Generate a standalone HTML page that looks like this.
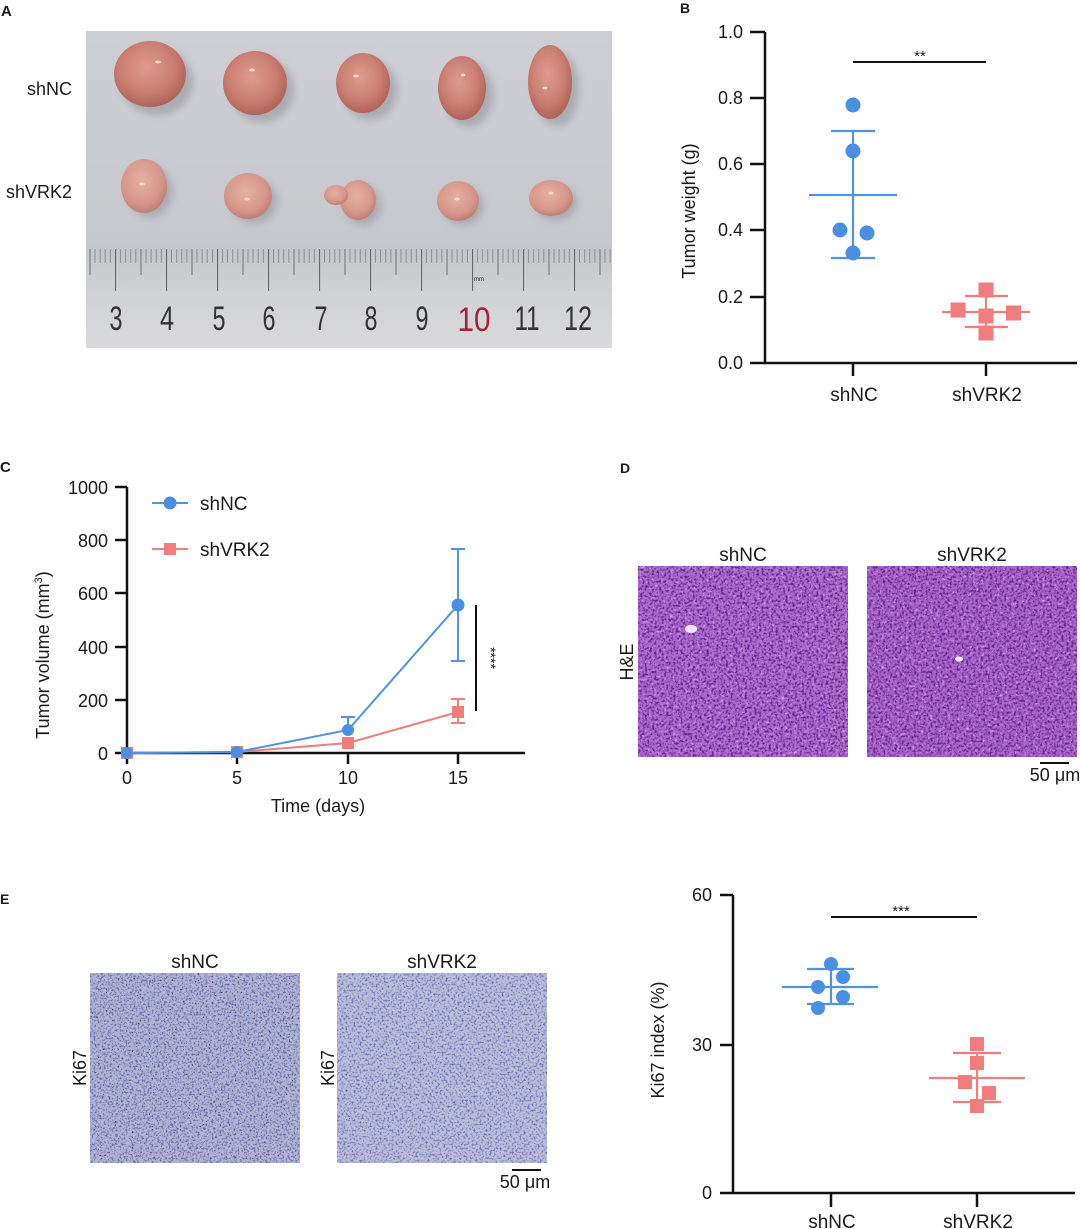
<!DOCTYPE html>
<html>
<head>
<meta charset="utf-8">
<style>
html,body{margin:0;padding:0;background:#fff;}
svg{display:block;}
text{font-family:"Liberation Sans",Arial,sans-serif;fill:#1a1a1a;}
</style>
</head>
<body>
<svg width="1080" height="1229" viewBox="0 0 1080 1229" xmlns="http://www.w3.org/2000/svg">
<defs>
  <linearGradient id="bg" x1="0" y1="0" x2="0" y2="1">
    <stop offset="0" stop-color="#cdcfd4"/>
    <stop offset="1" stop-color="#c6c8cd"/>
  </linearGradient>
  <linearGradient id="ruler" x1="0" y1="0" x2="0" y2="1">
    <stop offset="0" stop-color="#c4c5c8"/>
    <stop offset="0.45" stop-color="#d0d1d3"/>
    <stop offset="1" stop-color="#dadadc"/>
  </linearGradient>
  <radialGradient id="t1" cx="0.45" cy="0.4" r="0.65">
    <stop offset="0" stop-color="#dd9c8e"/>
    <stop offset="0.6" stop-color="#c97d70"/>
    <stop offset="1" stop-color="#a95d53"/>
  </radialGradient>
  <radialGradient id="t2" cx="0.45" cy="0.4" r="0.65">
    <stop offset="0" stop-color="#e6b0a2"/>
    <stop offset="0.65" stop-color="#d6978a"/>
    <stop offset="1" stop-color="#bb786c"/>
  </radialGradient>
  <filter id="blur" x="-30%" y="-30%" width="160%" height="160%">
    <feGaussianBlur stdDeviation="4"/>
  </filter>
  <pattern id="mm" x="115" y="246" width="5.1" height="102" patternUnits="userSpaceOnUse">
    <rect x="0" y="3" width="0.8" height="14" fill="#7d7e82"/>
  </pattern>
  <pattern id="half" x="140.5" y="246" width="51" height="102" patternUnits="userSpaceOnUse">
    <rect x="0" y="3" width="1" height="26" fill="#6f7074"/>
  </pattern>
  <pattern id="cm" x="115" y="246" width="51" height="102" patternUnits="userSpaceOnUse">
    <rect x="0" y="3" width="1.1" height="42" fill="#66676b"/>
  </pattern>
  <filter id="heN" x="0" y="0" width="1" height="1" color-interpolation-filters="sRGB">
    <feTurbulence type="fractalNoise" baseFrequency="0.42" numOctaves="2" seed="4"/>
    <feColorMatrix type="matrix" values="0 0 0 0 0.38  0 0 0 0 0.13  0 0 0 0 0.56  3.6 0 0 0 -1.6"/>
  </filter>
  <filter id="heL" x="0" y="0" width="1" height="1" color-interpolation-filters="sRGB">
    <feTurbulence type="fractalNoise" baseFrequency="0.33" numOctaves="2" seed="11"/>
    <feColorMatrix type="matrix" values="0 0 0 0 0.86  0 0 0 0 0.68  0 0 0 0 0.93  0 3.2 0 0 -1.85"/>
  </filter>
  <filter id="kiN" x="0" y="0" width="1" height="1" color-interpolation-filters="sRGB">
    <feTurbulence type="fractalNoise" baseFrequency="0.5" numOctaves="2" seed="7"/>
    <feColorMatrix type="matrix" values="0 0 0 0 0.40  0 0 0 0 0.44  0 0 0 0 0.72  4 0 0 0 -1.95"/>
  </filter>
  <filter id="kiD" x="0" y="0" width="1" height="1" color-interpolation-filters="sRGB">
    <feTurbulence type="fractalNoise" baseFrequency="0.65" numOctaves="1" seed="21"/>
    <feColorMatrix type="matrix" values="0 0 0 0 0.28  0 0 0 0 0.22  0 0 0 0 0.25  0 0 8 0 -5.05"/>
  </filter>
  <filter id="kiD2" x="0" y="0" width="1" height="1" color-interpolation-filters="sRGB">
    <feTurbulence type="fractalNoise" baseFrequency="0.65" numOctaves="1" seed="33"/>
    <feColorMatrix type="matrix" values="0 0 0 0 0.3  0 0 0 0 0.25  0 0 0 0 0.3  0 0 8 0 -5.45"/>
  </filter>
</defs>

<rect x="0" y="0" width="1080" height="1229" fill="#fff"/>

<!-- ================= Panel A ================= -->
<text x="1" y="16" font-size="15" font-weight="bold">A</text>
<text x="72" y="95" font-size="18" text-anchor="end">shNC</text>
<text x="72" y="198" font-size="18" text-anchor="end">shVRK2</text>

<rect x="86" y="31" width="526" height="216" fill="url(#bg)"/>
<g filter="url(#blur)" fill="#8f9096" opacity="0.55">
  <ellipse cx="157" cy="82" rx="36" ry="33"/>
  <ellipse cx="262" cy="90" rx="32" ry="32"/>
  <ellipse cx="370" cy="90" rx="27" ry="30"/>
  <ellipse cx="469" cy="95" rx="24" ry="32"/>
  <ellipse cx="557" cy="89" rx="22" ry="37"/>
  <ellipse cx="150" cy="191" rx="22" ry="26"/>
  <ellipse cx="254" cy="201" rx="23" ry="22"/>
  <ellipse cx="363" cy="205" rx="18" ry="20"/>
  <ellipse cx="463" cy="206" rx="20" ry="19"/>
  <ellipse cx="556" cy="203" rx="21" ry="17"/>
</g>
<ellipse cx="150" cy="74" rx="36" ry="33" fill="url(#t1)"/>
<ellipse cx="255" cy="83" rx="32" ry="32" fill="url(#t1)"/>
<ellipse cx="363" cy="83" rx="27" ry="30" fill="url(#t1)"/>
<ellipse cx="462" cy="88" rx="24" ry="32" fill="url(#t1)"/>
<ellipse cx="550" cy="82" rx="22" ry="37" fill="url(#t1)"/>
<ellipse cx="144" cy="186" rx="23" ry="27" fill="url(#t2)"/>
<ellipse cx="248" cy="196" rx="24" ry="23" fill="url(#t2)"/>
<ellipse cx="358" cy="200" rx="18" ry="20" fill="url(#t2)"/>
<ellipse cx="336" cy="195" rx="12" ry="10" fill="url(#t2)"/>
<ellipse cx="458" cy="201" rx="21" ry="20" fill="url(#t2)"/>
<ellipse cx="551" cy="198" rx="22" ry="18" fill="url(#t2)"/>
<g fill="#f6e6e0" opacity="0.8">
  <ellipse cx="158" cy="62" rx="3" ry="1.5"/>
  <ellipse cx="252" cy="70" rx="3" ry="1.5"/>
  <ellipse cx="356" cy="76" rx="3" ry="1.5"/>
  <ellipse cx="463" cy="75" rx="2.5" ry="1.5"/>
  <ellipse cx="545" cy="88" rx="2.5" ry="1.5"/>
  <ellipse cx="142" cy="184" rx="3" ry="1.5"/>
  <ellipse cx="247" cy="199" rx="3" ry="1.5"/>
  <ellipse cx="457" cy="199" rx="3" ry="1.5"/>
  <ellipse cx="551" cy="193" rx="2.5" ry="1.5"/>
</g>
<rect x="86" y="246" width="526" height="102" fill="url(#ruler)"/>
<rect x="86" y="246" width="526" height="102" fill="url(#mm)"/>
<rect x="86" y="246" width="526" height="102" fill="url(#half)"/>
<rect x="86" y="246" width="526" height="102" fill="url(#cm)"/>
<text x="474" y="281" font-size="6" fill="#555">mm</text>
<g font-size="34" fill="#333">
  <text x="116" y="330" text-anchor="middle" textLength="13" lengthAdjust="spacingAndGlyphs" style="fill:#333">3</text>
  <text x="167" y="330" text-anchor="middle" textLength="14" lengthAdjust="spacingAndGlyphs" style="fill:#333">4</text>
  <text x="219" y="330" text-anchor="middle" textLength="13" lengthAdjust="spacingAndGlyphs" style="fill:#333">5</text>
  <text x="269" y="330" text-anchor="middle" textLength="13" lengthAdjust="spacingAndGlyphs" style="fill:#333">6</text>
  <text x="321" y="330" text-anchor="middle" textLength="13" lengthAdjust="spacingAndGlyphs" style="fill:#333">7</text>
  <text x="371" y="330" text-anchor="middle" textLength="13" lengthAdjust="spacingAndGlyphs" style="fill:#333">8</text>
  <text x="422" y="330" text-anchor="middle" textLength="13" lengthAdjust="spacingAndGlyphs" style="fill:#333">9</text>
  <text x="474" y="331" text-anchor="middle" textLength="33" lengthAdjust="spacingAndGlyphs" style="fill:#a8213c">10</text>
  <text x="527" y="330" text-anchor="middle" textLength="25" lengthAdjust="spacingAndGlyphs" style="fill:#333">11</text>
  <text x="578" y="330" text-anchor="middle" textLength="28" lengthAdjust="spacingAndGlyphs" style="fill:#333">12</text>
</g>

<!-- ================= Panel B ================= -->
<text x="680" y="13" font-size="14" font-weight="bold">B</text>
<g stroke="#111" stroke-width="2.5" fill="none">
  <line x1="765" y1="32" x2="765" y2="364"/>
  <line x1="764" y1="363" x2="1077" y2="363"/>
  <line x1="750" y1="32" x2="765" y2="32"/>
  <line x1="750" y1="98" x2="765" y2="98"/>
  <line x1="750" y1="164" x2="765" y2="164"/>
  <line x1="750" y1="230" x2="765" y2="230"/>
  <line x1="750" y1="297" x2="765" y2="297"/>
  <line x1="750" y1="363" x2="765" y2="363"/>
  <line x1="853" y1="363" x2="853" y2="376"/>
  <line x1="986" y1="363" x2="986" y2="376"/>
</g>
<g font-size="18" text-anchor="end">
  <text x="743" y="38">1.0</text>
  <text x="743" y="104">0.8</text>
  <text x="743" y="170">0.6</text>
  <text x="743" y="236">0.4</text>
  <text x="743" y="303">0.2</text>
  <text x="743" y="369">0.0</text>
</g>
<text transform="translate(695,211) rotate(-90)" font-size="18" text-anchor="middle">Tumor weight (g)</text>
<text x="854" y="401" font-size="19" text-anchor="middle">shNC</text>
<text x="987" y="401" font-size="19" text-anchor="middle">shVRK2</text>
<line x1="853" y1="62" x2="986" y2="62" stroke="#111" stroke-width="2"/>
<text x="920" y="61" font-size="15" text-anchor="middle">**</text>
<g stroke="#4f93e3" stroke-width="2.2">
  <line x1="853" y1="131" x2="853" y2="258"/>
  <line x1="831" y1="131" x2="875" y2="131"/>
  <line x1="831" y1="258" x2="875" y2="258"/>
  <line x1="809" y1="195" x2="897" y2="195"/>
</g>
<g fill="#4a90e2">
  <circle cx="853" cy="105" r="7.5"/>
  <circle cx="853" cy="151" r="7.5"/>
  <circle cx="840" cy="230" r="7.5"/>
  <circle cx="867" cy="233" r="7.5"/>
  <circle cx="853" cy="253" r="7.5"/>
</g>
<g stroke="#f07e7e" stroke-width="2.2">
  <line x1="986" y1="296" x2="986" y2="327"/>
  <line x1="965" y1="296" x2="1008" y2="296"/>
  <line x1="965" y1="327" x2="1008" y2="327"/>
  <line x1="942" y1="312" x2="1030" y2="312"/>
</g>
<g fill="#f07c7c">
  <rect x="978.5" y="282.5" width="15" height="15"/>
  <rect x="950.5" y="302.5" width="15" height="15"/>
  <rect x="978.5" y="308.5" width="15" height="15"/>
  <rect x="1006" y="305.5" width="15" height="15"/>
  <rect x="978.5" y="325.5" width="15" height="15"/>
</g>

<!-- ================= Panel C ================= -->
<text x="0" y="472" font-size="15" font-weight="bold">C</text>
<g stroke="#111" stroke-width="2.5" fill="none">
  <line x1="127" y1="487" x2="127" y2="754"/>
  <line x1="126" y1="753" x2="525" y2="753"/>
  <line x1="115" y1="487" x2="127" y2="487"/>
  <line x1="115" y1="540" x2="127" y2="540"/>
  <line x1="115" y1="593" x2="127" y2="593"/>
  <line x1="115" y1="647" x2="127" y2="647"/>
  <line x1="115" y1="700" x2="127" y2="700"/>
  <line x1="115" y1="753" x2="127" y2="753"/>
  <line x1="127" y1="753" x2="127" y2="764"/>
  <line x1="237" y1="753" x2="237" y2="764"/>
  <line x1="348" y1="753" x2="348" y2="764"/>
  <line x1="458" y1="753" x2="458" y2="764"/>
</g>
<g font-size="18" text-anchor="end">
  <text x="108" y="494">1000</text>
  <text x="108" y="547">800</text>
  <text x="108" y="600">600</text>
  <text x="108" y="654">400</text>
  <text x="108" y="707">200</text>
  <text x="108" y="760">0</text>
</g>
<g font-size="18" text-anchor="middle">
  <text x="127" y="784">0</text>
  <text x="237" y="784">5</text>
  <text x="348" y="784">10</text>
  <text x="458" y="784">15</text>
</g>
<text x="318" y="812" font-size="18" text-anchor="middle">Time (days)</text>
<text transform="translate(49,655) rotate(-90)" font-size="18" text-anchor="middle">Tumor volume (mm<tspan font-size="11" dy="-7">3</tspan><tspan dy="7">)</tspan></text>
<line x1="152" y1="503" x2="188" y2="503" stroke="#4f93e3" stroke-width="2"/>
<circle cx="170" cy="503" r="6.5" fill="#4a90e2"/>
<text x="200" y="510" font-size="19">shNC</text>
<line x1="152" y1="549" x2="188" y2="549" stroke="#f07e7e" stroke-width="2"/>
<rect x="164" y="543" width="12" height="12" fill="#f07c7c"/>
<text x="200" y="556" font-size="19">shVRK2</text>
<polyline points="127,753 237,752 348,743 458,712" fill="none" stroke="#f07e7e" stroke-width="2"/>
<g stroke="#f07e7e" stroke-width="2">
  <line x1="458" y1="699" x2="458" y2="723"/>
  <line x1="451" y1="699" x2="465" y2="699"/>
  <line x1="451" y1="723" x2="465" y2="723"/>
</g>
<g fill="#f07c7c">
  <rect x="121" y="747" width="12" height="12"/>
  <rect x="231" y="746" width="12" height="12"/>
  <rect x="342" y="737" width="12" height="12"/>
  <rect x="452" y="706" width="12" height="12"/>
</g>
<polyline points="127,753 237,752 348,730 458,605" fill="none" stroke="#4f93e3" stroke-width="2"/>
<g stroke="#4f93e3" stroke-width="2">
  <line x1="348" y1="717" x2="348" y2="730"/>
  <line x1="341" y1="717" x2="355" y2="717"/>
  <line x1="458" y1="549" x2="458" y2="661"/>
  <line x1="451" y1="549" x2="465" y2="549"/>
  <line x1="451" y1="661" x2="465" y2="661"/>
</g>
<g fill="#4a90e2">
  <circle cx="127" cy="753" r="6"/>
  <circle cx="237" cy="752" r="6"/>
  <circle cx="348" cy="730" r="6"/>
  <circle cx="458" cy="605" r="6.5"/>
</g>
<line x1="476" y1="605" x2="476" y2="711" stroke="#111" stroke-width="2"/>
<text transform="translate(486,658) rotate(90)" font-size="14" text-anchor="middle">****</text>

<!-- ================= Panel D ================= -->
<text x="620" y="473" font-size="14" font-weight="bold">D</text>
<text x="743" y="561" font-size="19" text-anchor="middle">shNC</text>
<text x="972" y="561" font-size="19" text-anchor="middle">shVRK2</text>
<text transform="translate(633,662) rotate(-90)" font-size="18" text-anchor="middle">H&amp;E</text>
<rect x="638" y="566" width="210" height="191" fill="#ad6ccb"/>
<rect x="638" y="566" width="210" height="191" filter="url(#heN)"/>
<rect x="638" y="566" width="210" height="191" filter="url(#heL)"/>
<ellipse cx="691" cy="629" rx="6" ry="4" fill="#f3e8f6"/>
<rect x="867" y="566" width="210" height="191" fill="#a966c8"/>
<rect x="867" y="566" width="210" height="191" filter="url(#heN)"/>
<rect x="867" y="566" width="210" height="191" filter="url(#heL)"/>
<ellipse cx="959" cy="659" rx="4" ry="2.5" fill="#f3e8f6"/>
<line x1="1040" y1="763" x2="1069" y2="763" stroke="#111" stroke-width="2"/>
<text x="1055" y="781" font-size="18" text-anchor="middle">50 μm</text>

<!-- ================= Panel E ================= -->
<text x="0" y="904" font-size="14" font-weight="bold">E</text>
<text x="195" y="968" font-size="19" text-anchor="middle">shNC</text>
<text x="442" y="968" font-size="19" text-anchor="middle">shVRK2</text>
<text transform="translate(86,1068) rotate(-90)" font-size="18" text-anchor="middle">Ki67</text>
<text transform="translate(334,1068) rotate(-90)" font-size="18" text-anchor="middle">Ki67</text>
<rect x="90" y="973" width="210" height="190" fill="#b3b6d6"/>
<rect x="90" y="973" width="210" height="190" filter="url(#kiN)"/>
<rect x="90" y="973" width="210" height="190" filter="url(#kiD)"/>
<rect x="337" y="973" width="210" height="190" fill="#bcbfdc"/>
<rect x="337" y="973" width="210" height="190" filter="url(#kiN)"/>
<rect x="337" y="973" width="210" height="190" filter="url(#kiD2)"/>
<line x1="512" y1="1170" x2="541" y2="1170" stroke="#111" stroke-width="2"/>
<text x="525" y="1188" font-size="18" text-anchor="middle">50 μm</text>

<g stroke="#111" stroke-width="2.5" fill="none">
  <line x1="733" y1="895" x2="733" y2="1194"/>
  <line x1="720" y1="1193" x2="1075" y2="1193"/>
  <line x1="720" y1="895" x2="733" y2="895"/>
  <line x1="720" y1="1045" x2="733" y2="1045"/>
  <line x1="831" y1="1193" x2="831" y2="1207"/>
  <line x1="977" y1="1193" x2="977" y2="1207"/>
</g>
<g font-size="18" text-anchor="end">
  <text x="712" y="901">60</text>
  <text x="712" y="1051">30</text>
  <text x="712" y="1199">0</text>
</g>
<text transform="translate(664,1040) rotate(-90)" font-size="18" text-anchor="middle">Ki67 index (%)</text>
<text x="832" y="1228" font-size="19" text-anchor="middle">shNC</text>
<text x="978" y="1228" font-size="19" text-anchor="middle">shVRK2</text>
<line x1="831" y1="917" x2="977" y2="917" stroke="#111" stroke-width="2"/>
<text x="901" y="916" font-size="15" text-anchor="middle">***</text>
<g stroke="#4f93e3" stroke-width="2.2">
  <line x1="831" y1="969" x2="831" y2="1004"/>
  <line x1="807" y1="969" x2="854" y2="969"/>
  <line x1="807" y1="1004" x2="854" y2="1004"/>
  <line x1="782" y1="987" x2="878" y2="987"/>
</g>
<g fill="#4a90e2">
  <circle cx="831" cy="964" r="7"/>
  <circle cx="843" cy="977" r="7"/>
  <circle cx="818" cy="987" r="7"/>
  <circle cx="843" cy="997" r="7"/>
  <circle cx="818" cy="1008" r="7"/>
</g>
<g stroke="#f07e7e" stroke-width="2.2">
  <line x1="977" y1="1053" x2="977" y2="1102"/>
  <line x1="953" y1="1053" x2="1001" y2="1053"/>
  <line x1="953" y1="1102" x2="1001" y2="1102"/>
  <line x1="929" y1="1078" x2="1025" y2="1078"/>
</g>
<g fill="#f07c7c">
  <rect x="970" y="1037" width="14" height="14"/>
  <rect x="970" y="1056" width="14" height="14"/>
  <rect x="958" y="1075" width="14" height="14"/>
  <rect x="982" y="1086" width="14" height="14"/>
  <rect x="970" y="1099" width="14" height="14"/>
</g>
</svg>
</body>
</html>
